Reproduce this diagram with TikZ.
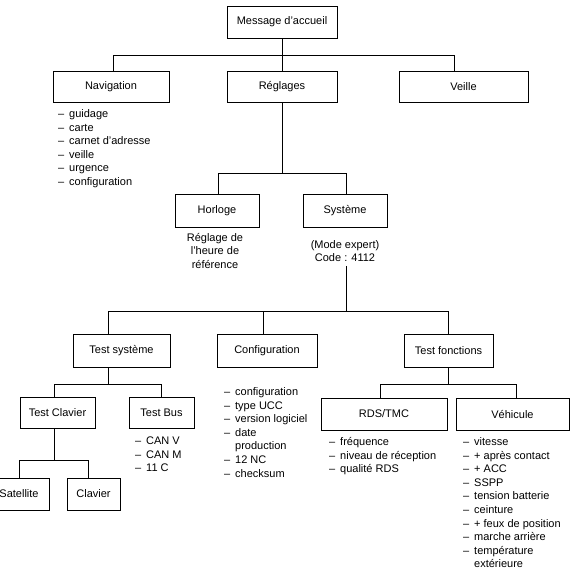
\documentclass[tikz,border=0pt]{standalone}
\usepackage{fontspec}
\setmainfont{Liberation Sans}
\newcommand{\itm}{\makebox[11pt][l]{–}}
\newcommand{\ind}{\hspace*{11pt}}
\begin{document}
\begin{tikzpicture}[x=1pt,y=-1pt,
  every node/.style={font=\fontsize{11}{13.6}\selectfont, inner sep=0pt},
  box/.style={draw, line width=0.8pt, minimum height=32pt, align=center},
  lst/.style={anchor=base west},
  conn/.style={line width=0.8pt}]
\useasboundingbox (0,0) rectangle (573,581);
% boxes
\node[box, minimum width=110pt] (msg) at (282,22) {Message d'accueil};
\node[box, minimum width=116pt, minimum height=31pt] (nav) at (111,86.5) {Navigation};
\node[box, minimum width=110pt, minimum height=31pt] (reg) at (282,86.5) {Réglages};
\node[box, minimum width=129pt, minimum height=31pt] (veille) at (463.5,86.5) {Veille};
\node[box, minimum width=84pt, minimum height=33pt] (horl) at (217,210.5) {Horloge};
\node[box, minimum width=84pt, minimum height=33pt] (sys) at (345,210.5) {Système};
\node[box, minimum width=97pt, minimum height=33pt] (tsys) at (121.5,350.5) {Test système};
\node[box, minimum width=100pt, minimum height=33pt] (conf) at (267,350.5) {Configuration};
\node[box, minimum width=89pt, minimum height=33pt] (tfonc) at (448.5,350.5) {Test fonctions};
\node[box, minimum width=75pt, minimum height=31pt] (tclav) at (57.5,412.5) {Test Clavier};
\node[box, minimum width=65pt, minimum height=31pt] (tbus) at (161.5,412.5) {Test Bus};
\node[box, minimum width=60pt] (sat) at (19,494) {Satellite};
\node[box, minimum width=53pt] (clav) at (93.5,494) {Clavier};
\node[box, minimum width=126pt] (rds) at (384,414) {RDS/TMC};
\node[box, minimum width=113pt] (veh) at (512.5,414) {Véhicule};
% texts under boxes
\node[anchor=base] (horltext) at (215,241) {\begin{tabular}[t]{@{}c@{}}Réglage de\\l'heure de\\référence\end{tabular}};
\node[anchor=base] (systext) at (345,248) {\begin{tabular}[t]{@{}c@{}}(Mode expert)\\Code : 4112\end{tabular}};
% lists
\node[lst] (navlist) at (58,117.5) {\begin{tabular}[t]{@{}l@{}}\itm guidage\\\itm carte\\\itm carnet d'adresse\\\itm veille\\\itm urgence\\\itm configuration\end{tabular}};
\node[lst] (tbuslist) at (135,444.5) {\begin{tabular}[t]{@{}l@{}}\itm CAN V\\\itm CAN M\\\itm 11 C\end{tabular}};
\node[lst] (conflist) at (224,395.5) {\begin{tabular}[t]{@{}l@{}}\itm configuration\\\itm type UCC\\\itm version logiciel\\\itm date\\\ind production\\\itm 12 NC\\\itm checksum\end{tabular}};
\node[lst] (rdslist) at (329,445.5) {\begin{tabular}[t]{@{}l@{}}\itm fréquence\\\itm niveau de réception\\\itm qualité RDS\end{tabular}};
\node[lst] (vehlist) at (463,445.5) {\begin{tabular}[t]{@{}l@{}}\itm vitesse\\\itm + après contact\\\itm + ACC\\\itm SSPP\\\itm tension batterie\\\itm ceinture\\\itm + feux de position\\\itm marche arrière\\\itm température\\\ind extérieure\end{tabular}};
% connectors
\draw[conn] (msg.south) -- (reg.north);
\draw[conn] ([xshift=2pt]nav.north) -- ++(0,-15) -| ([xshift=-9.5pt]veille.north);
\draw[conn] (reg.south) -- ++(0,72);
\draw[conn] ([xshift=1pt]horl.north) -- ++(0,-20) -| ([xshift=1pt]sys.north);
\draw[conn] ([xshift=1pt]systext.south) -- ([xshift=1pt,yshift=22pt]systext.south |- tsys.north);
\draw[conn] ([xshift=-13pt]tsys.north) -- ++(0,-22) -| (tfonc.north);
\draw[conn] ([xshift=-4pt]conf.north) -- ++(0,-22);
\draw[conn] ([xshift=-13pt]tsys.south) -- ++(0,18);
\draw[conn] ([xshift=-3.5pt]tclav.north) -- ++(0,-12) -| (tbus.north);
\draw[conn] ([xshift=-3.5pt]tclav.south) -- ++(0,33);
\draw[conn] (sat.north) -- ++(0,-17) -| ([xshift=-5.5pt]clav.north);
\draw[conn] (tfonc.south) -- ++(0,18);
\draw[conn] ([xshift=-4pt]rds.north) -- ++(0,-13) -| ([xshift=3.5pt]veh.north);
\end{tikzpicture}
\end{document}
